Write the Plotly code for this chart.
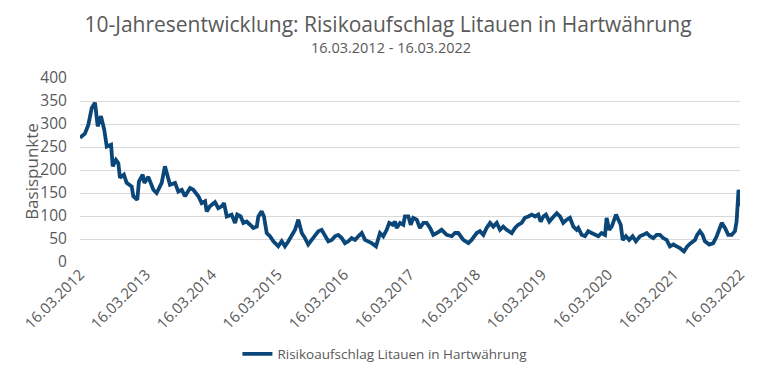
import plotly.graph_objects as go

# ---- data ----
dates = [
    "2012-03-16", "2012-04-12", "2012-05-01", "2012-05-20", "2012-06-07", "2012-06-22", "2012-07-10",
    "2012-07-28", "2012-08-11", "2012-09-04", "2012-09-13", "2012-10-01", "2012-10-14", "2012-10-23",
    "2012-11-14", "2012-11-29", "2012-12-27", "2013-01-05", "2013-01-27", "2013-02-05", "2013-02-26",
    "2013-03-07", "2013-03-29", "2013-04-26", "2013-05-14", "2013-06-11", "2013-06-29", "2013-07-09",
    "2013-07-27", "2013-08-24", "2013-09-11", "2013-09-30", "2013-10-18", "2013-11-15", "2013-12-03",
    "2013-12-31", "2014-01-18", "2014-02-06", "2014-02-15", "2014-03-05", "2014-04-02", "2014-04-20",
    "2014-05-09", "2014-05-22", "2014-06-06", "2014-07-03", "2014-07-22", "2014-08-03", "2014-08-22",
    "2014-09-06", "2014-09-24", "2014-10-13", "2014-10-31", "2014-11-19", "2014-11-28", "2014-12-16",
    "2014-12-29", "2015-01-13", "2015-01-31", "2015-02-19", "2015-03-18", "2015-04-06", "2015-04-24",
    "2015-05-13", "2015-05-31", "2015-06-19", "2015-07-07", "2015-07-26", "2015-08-13", "2015-08-31",
    "2015-09-19", "2015-10-07", "2015-10-26", "2015-11-13", "2015-12-02", "2015-12-20", "2016-01-08",
    "2016-01-26", "2016-02-13", "2016-03-03", "2016-03-21", "2016-04-09", "2016-04-27", "2016-05-16",
    "2016-06-03", "2016-06-22", "2016-07-10", "2016-07-28", "2016-08-16", "2016-09-09", "2016-10-01",
    "2016-10-19", "2016-11-07", "2016-11-21", "2016-12-10", "2016-12-23", "2017-01-01", "2017-01-20",
    "2017-02-07", "2017-02-16", "2017-03-07", "2017-03-20", "2017-04-03", "2017-04-22", "2017-05-10",
    "2017-05-29", "2017-06-16", "2017-07-05", "2017-07-23", "2017-08-11", "2017-09-07", "2017-10-05",
    "2017-11-02", "2017-11-20", "2017-12-08", "2018-01-05", "2018-02-02", "2018-02-20", "2018-03-20",
    "2018-04-07", "2018-04-26", "2018-05-14", "2018-06-02", "2018-06-20", "2018-07-09", "2018-07-27",
    "2018-08-14", "2018-09-02", "2018-09-30", "2018-10-18", "2018-11-05", "2018-11-24", "2018-12-12",
    "2018-12-31", "2019-01-18", "2019-02-06", "2019-02-24", "2019-03-09", "2019-03-24", "2019-04-07",
    "2019-04-26", "2019-05-14", "2019-06-06", "2019-06-24", "2019-07-12", "2019-07-31", "2019-08-18",
    "2019-09-06", "2019-09-24", "2019-10-03", "2019-10-22", "2019-11-09", "2019-11-27", "2019-12-16",
    "2020-01-03", "2020-01-22", "2020-02-09", "2020-02-28", "2020-03-08", "2020-03-22", "2020-04-05",
    "2020-04-14", "2020-04-29", "2020-05-12", "2020-05-25", "2020-06-05", "2020-06-23", "2020-07-11",
    "2020-07-30", "2020-08-17", "2020-09-08", "2020-09-27", "2020-10-16", "2020-11-03", "2020-11-21",
    "2020-12-10", "2020-12-28", "2021-01-15", "2021-02-03", "2021-02-21", "2021-03-12", "2021-03-30",
    "2021-04-18", "2021-05-10", "2021-05-28", "2021-06-16", "2021-07-10", "2021-07-22", "2021-08-06",
    "2021-08-21", "2021-09-03", "2021-09-27", "2021-10-19", "2021-11-07", "2021-11-21", "2021-12-05",
    "2021-12-23", "2022-01-10", "2022-01-29", "2022-02-16", "2022-02-25", "2022-03-03", "2022-03-08",
    "2022-03-16",
]
spread_bp = [
    270, 279, 298, 335, 346, 295, 317,
    288, 251, 255, 208, 222, 215, 183,
    190, 172, 164, 143, 135, 175, 190,
    172, 185, 157, 150, 172, 208, 193,
    168, 172, 153, 157, 143, 161, 157,
    143, 128, 132, 110, 121, 130, 117,
    121, 128, 99, 103, 85, 103, 99,
    85, 88, 81, 74, 77, 99, 110,
    99, 63, 56, 45, 34, 45, 34,
    45, 59, 70, 92, 63, 52, 38,
    48, 56, 67, 70, 56, 45, 48,
    56, 59, 52, 41, 45, 52, 48,
    56, 63, 48, 45, 41, 34, 63,
    56, 70, 85, 81, 88, 74, 85,
    81, 99, 99, 81, 96, 92, 74,
    85, 85, 74, 59, 63, 70, 59,
    56, 63, 63, 48, 41, 48, 63,
    67, 59, 74, 85, 77, 85, 70,
    77, 70, 63, 74, 81, 85, 96,
    99, 103, 99, 103, 88, 99, 103,
    88, 96, 106, 99, 85, 92, 96,
    77, 70, 74, 59, 56, 67, 63,
    59, 56, 63, 59, 96, 70, 77,
    88, 103, 92, 81, 48, 56, 48,
    56, 45, 56, 59, 63, 56, 52,
    59, 59, 52, 48, 34, 38, 34,
    30, 23, 34, 41, 48, 59, 67,
    59, 45, 38, 41, 56, 70, 85,
    74, 59, 59, 67, 88, 135, 157,
    121,
]
years = list(range(2012, 2023))
tick_dates = [f"{y}-03-16" for y in years]
tick_labels = [f"16.03.{y}" for y in years]
series_name = "Risikoaufschlag Litauen in Hartwährung"

FONT = "Open Sans"
GREY = "#595959"

fig = go.Figure()
fig.add_trace(go.Scatter(
    x=dates, y=spread_bp, mode="lines", name=series_name,
    line=dict(color="#0B4679", width=3.8),
))

fig.update_layout(
    width=770, height=380,
    paper_bgcolor="white", plot_bgcolor="white",
    margin=dict(l=72, r=38, t=70, b=126, autoexpand=False),
    font=dict(family=FONT, color=GREY, size=13),
    title=dict(
        text="10-Jahresentwicklung: Risikoaufschlag Litauen in Hartwährung",
        x=380 / 770, xref="container", xanchor="center",
        y=1 - 17 / 380, yref="container", yanchor="middle",
        font=dict(family=FONT, size=21, color=GREY),
    ),
    annotations=[
        dict(
            text="16.03.2012 - 16.03.2022", xref="paper", yref="paper",
            x=0.471, y=(262 - 48) / 184, xanchor="center", yanchor="middle",
            showarrow=False, font=dict(family=FONT, size=14.5, color=GREY),
        ),
        dict(
            text="Basispunkte", xref="paper", yref="paper",
            x=-0.0727, y=0.49, xanchor="center", yanchor="middle", textangle=-90,
            showarrow=False, font=dict(family=FONT, size=17, color=GREY),
        ),
    ],
    showlegend=True,
    legend=dict(
        orientation="h", x=0.462, xanchor="center", y=-0.5, yanchor="middle",
        font=dict(family=FONT, size=13.5, color=GREY),
    ),
    xaxis=dict(
        type="date", range=["2012-03-16", "2022-03-16"],
        tickmode="array", tickvals=tick_dates, ticktext=tick_labels,
        tickangle=-45, showgrid=False, zeroline=False, showline=False,
        tickfont=dict(family=FONT, size=15, color=GREY),
    ),
    yaxis=dict(
        range=[0, 400], tickmode="linear", tick0=0, dtick=50,
        showgrid=True, gridcolor="#D9D9D9", gridwidth=1, zeroline=False,
        ticks="outside", ticklen=9, tickcolor="rgba(0,0,0,0)",
        tickfont=dict(family=FONT, size=15.5, color=GREY),
    ),
)

fig.write_html("out.html")
